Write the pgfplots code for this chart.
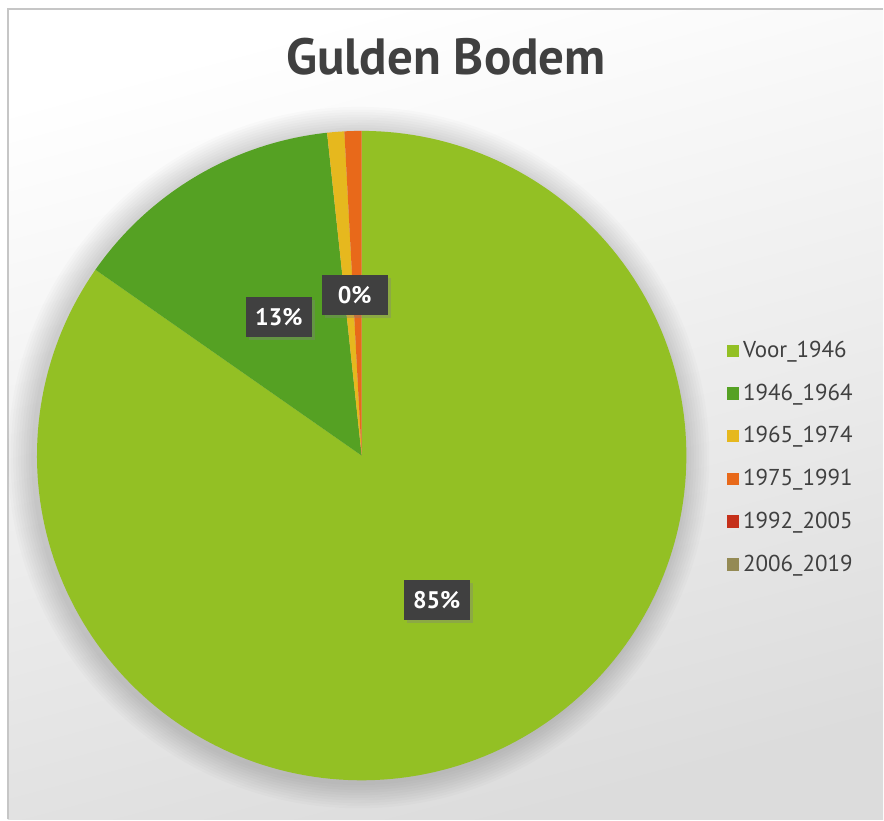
\documentclass[border=0pt]{standalone}
\usepackage{pgfplots}
\pgfplotsset{compat=1.18}
\usepackage{fontspec}
\setmainfont{PT Sans}
\usetikzlibrary{shadows}
\definecolor{cA}{HTML}{93C024}
\definecolor{cB}{HTML}{55A123}
\definecolor{cC}{HTML}{E6B81E}
\definecolor{cD}{HTML}{E8691A}
\definecolor{cE}{HTML}{C5301A}
\definecolor{cF}{HTML}{948A54}
\definecolor{txt}{HTML}{404040}
\definecolor{bg}{HTML}{DCDCDC}
\tikzset{lab/.style={fill=txt, text=white, font=\bfseries\fontsize{12}{14}\selectfont,
    minimum width=33pt, minimum height=20pt, inner sep=0pt,
    drop shadow={opacity=0.35, shadow xshift=1.5pt, shadow yshift=-1.5pt}}}
% shares (percent) of each category
\def\vA{84.7}\def\vB{13.6}\def\vC{0.85}\def\vD{0.85}\def\vE{0}\def\vF{0}
\pgfmathsetmacro\aA{3.6*\vA}
\pgfmathsetmacro\aB{\aA+3.6*\vB}
\pgfmathsetmacro\aC{\aB+3.6*\vC}
\pgfmathsetmacro\aD{\aC+3.6*\vD}
\begin{document}
\begin{tikzpicture}
\fill[white] (0,0) rectangle (442pt,-410pt);
\shade[top color=white, bottom color=bg, shading angle=15] (4pt,-4.5pt) rectangle (442pt,-410pt);
\draw[gray!45, line width=0.8pt] (4pt,-410pt) -- (4pt,-4.5pt) -- (442pt,-4.5pt);
\foreach \i in {1,...,10}
  \fill[black, opacity=0.014] (179.5pt,-229pt) circle ({162.5pt+\i*1.3pt});
\node[anchor=base, font=\fontsize{25.5}{30}\selectfont\bfseries, text=txt] at (223.25pt,-37.5pt) {Gulden Bodem};
\begin{axis}[at={(181pt,-228pt)}, anchor=center, scale only axis,
  width=325pt, height=325pt, xmin=-1, xmax=1, ymin=-1, ymax=1,
  hide axis, clip=false,
  legend image code/.code={\fill[#1] (0pt,-3.1pt) rectangle (6.3pt,3.1pt);},
  legend style={at={(1.052,0.497)}, anchor=west, draw=none, fill=none,
    font=\fontsize{11.5}{13}\selectfont, text=txt, row sep=7.7pt},
  legend cell align=left]
\addplot[fill=cA, draw=none, domain=0:\aA, samples=200] ({sin(x)},{cos(x)}) -- (axis cs:0,0) -- cycle;
\addlegendentry{Voor\_1946}
\addplot[fill=cB, draw=none, domain=\aA:\aB, samples=60] ({sin(x)},{cos(x)}) -- (axis cs:0,0) -- cycle;
\addlegendentry{1946\_1964}
\addplot[fill=cC, draw=none, domain=\aB:\aC, samples=10] ({sin(x)},{cos(x)}) -- (axis cs:0,0) -- cycle;
\addlegendentry{1965\_1974}
\addplot[fill=cD, draw=none, domain=\aC:\aD, samples=10] ({sin(x)},{cos(x)}) -- (axis cs:0,0) -- cycle;
\addlegendentry{1975\_1991}
\addlegendimage{fill=cE, draw=none}
\addlegendentry{1992\_2005}
\addlegendimage{fill=cF, draw=none}
\addlegendentry{2006\_2019}
\node[lab] at (axis cs:0.231,-0.446) {85\%};
\node[lab] at (axis cs:-0.255,0.428) {13\%};
\node[lab] at (axis cs:-0.0215,0.495) {0\%};
\end{axis}
\end{tikzpicture}
\end{document}
